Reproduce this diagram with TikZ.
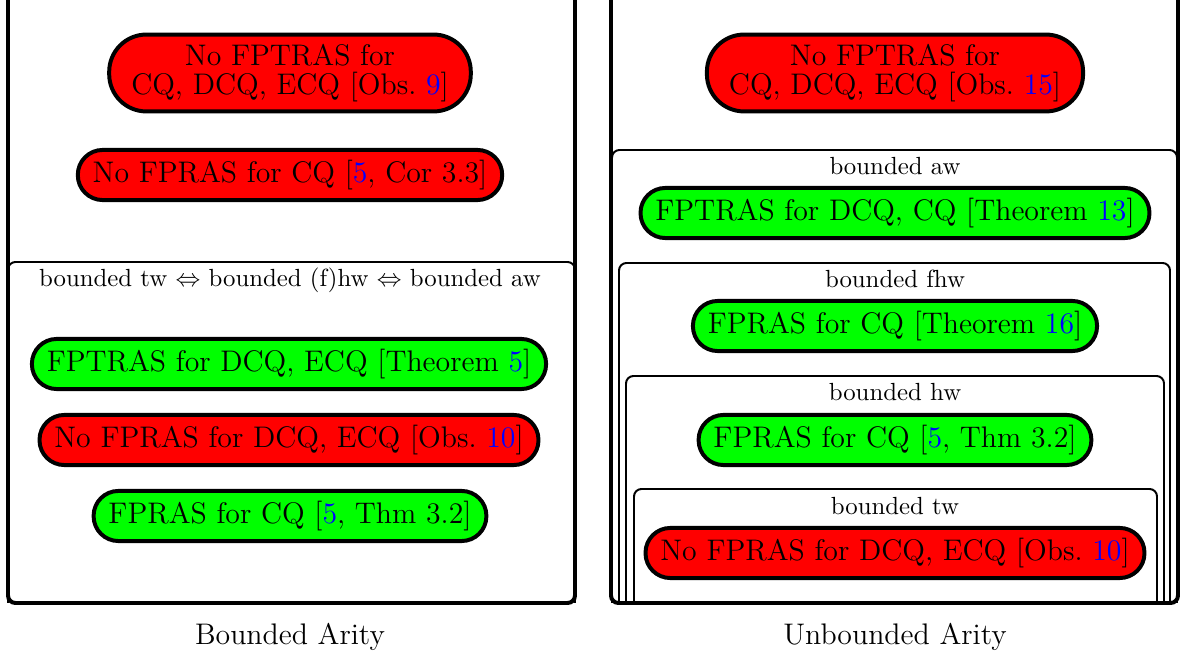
\documentclass[tikz,border=0pt]{standalone}
\usepackage{tikz}
\usepackage{xcolor}
\newcommand{\refn}[1]{\textcolor{blue}{#1}}

\begin{document}
\begin{tikzpicture}[x=0.4032pt,y=-0.4032pt,
  res/.style={draw,line width=1.6pt,rounded corners=10pt,minimum height=20.2pt,
    inner xsep=6pt,inner ysep=3pt,font=\large,align=center},
  good/.style={res,fill=green},
  bad/.style={res,fill=red},
  twoline/.style={rounded corners=15pt,minimum height=31pt,inner xsep=8.9pt,
    font={\large\setlength\baselineskip{12pt}}},
  panel/.style={line width=1.6pt,rounded corners=3pt},
  region/.style={line width=0.8pt,rounded corners=3pt}]
\useasboundingbox (0,0) rectangle (1180,657);
\clip (0,0) rectangle (1180,657);
% bounded arity
\draw[panel] (8,-20) -- (8,603) -- (575,603) -- (575,-20);
\draw[region] (8,603) -- (8,262) -- (575,262) -- (575,603);
\node[bad,twoline] (baA) at (290,73) {No FPTRAS for\\CQ, DCQ, ECQ [Obs.~\refn{9}]};
\node[bad] (baB) at (290,175) {No FPRAS for CQ [\refn{5}, Cor 3.3]};
\node (baL) at (290,280) {bounded tw $\Leftrightarrow$ bounded (f)hw $\Leftrightarrow$ bounded aw};
\node[good] (baC) at (289,364) {FPTRAS for DCQ, ECQ [Theorem~\refn{5}]};
\node[bad] (baD) at (289,440) {No FPRAS for DCQ, ECQ [Obs.~\refn{10}]};
\node[good] (baE) at (290,516) {FPRAS for CQ [\refn{5}, Thm 3.2]};
\node[font=\large] (baT) at (290,637) {Bounded Arity};
% unbounded arity
\draw[panel] (611,-20) -- (611,603) -- (1178,603) -- (1178,-20);
\draw[region] (612,603) -- (612,150) -- (1177,150) -- (1177,603);
\draw[region] (619,603) -- (619,263) -- (1170,263) -- (1170,603);
\draw[region] (626,603) -- (626,376) -- (1164,376) -- (1164,603);
\draw[region] (634,603) -- (634,489) -- (1157,489) -- (1157,603);
\node[bad,twoline] (uaA) at (895,73) {No FPTRAS for\\CQ, DCQ, ECQ [Obs.~\refn{15}]};
\node (uaL1) at (895,166) {bounded aw};
\node[good] (uaB) at (895,213) {FPTRAS for DCQ, CQ [Theorem~\refn{13}]};
\node (uaL2) at (895,279) {bounded fhw};
\node[good] (uaC) at (895,326) {FPRAS for CQ [Theorem~\refn{16}]};
\node (uaL3) at (895,392) {bounded hw};
\node[good] (uaD) at (895,440) {FPRAS for CQ [\refn{5}, Thm 3.2]};
\node (uaL4) at (895,506) {bounded tw};
\node[bad] (uaE) at (895,553) {No FPRAS for DCQ, ECQ [Obs.~\refn{10}]};
\node[font=\large] (uaT) at (895,637) {Unbounded Arity};
\end{tikzpicture}
\end{document}
